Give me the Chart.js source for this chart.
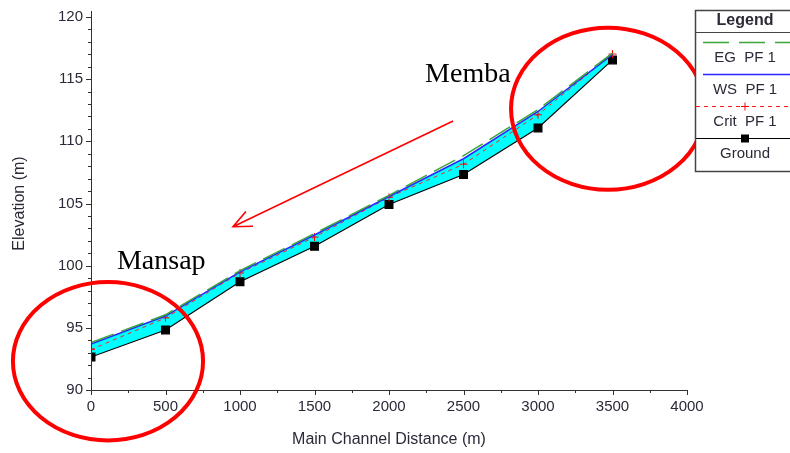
<!DOCTYPE html>
<html><head><meta charset="utf-8">
<script src="https://cdn.jsdelivr.net/npm/chart.js@4.4.1/dist/chart.umd.min.js"></script>
<style>html,body{margin:0;padding:0;background:#fff}canvas{display:block}</style>
</head><body>
<canvas id="c" width="790" height="453"></canvas>
<script>
// ---- data ----
const distances = [0, 500, 1000, 1500, 2000, 2500, 3000, 3500];
const egPF1     = [93.82, 96.05, 99.6, 102.58, 105.66, 108.85, 112.55, 117.1];
const wsPF1     = [93.7, 95.95, 99.5, 102.47, 105.56, 108.6, 112.4, 117.0];
const critPF1   = [93.25, 95.8, 99.41, 102.3, 105.5, 108.16, 112.14, 117.02];
const ground    = [92.65, 94.83, 98.7, 101.56, 104.92, 107.33, 111.08, 116.55];
const seriesLabels = ['EG  PF 1', 'WS  PF 1', 'Crit  PF 1', 'Ground'];
const xTickValues = [0, 500, 1000, 1500, 2000, 2500, 3000, 3500, 4000];
const yTickValues = [90, 95, 100, 105, 110, 115, 120];
const placeNames = ['Memba', 'Mansap'];

// ---- styling / annotation placement (in data units) ----
const FONT = "'Liberation Sans', Arial, sans-serif";
const TXT = '#2a2a38';
const ellipses = [
  {cx: 3470, cy: 112.62, rx: 651, ry: 6.52},
  {cx: 114,  cy: 92.31,  rx: 638, ry: 6.37}
];
const labelPos = [{x: 2242, y: 114.75}, {x: 174, y: 99.71}];
const arrow = {from: {x: 2430, y: 111.64}, to: {x: 953, y: 103.13}};

const pts = vals => distances.map((d, i) => ({x: d, y: vals[i]}));

const tickPlugin = {
  id: 'ticks',
  afterDraw(chart) {
    const {ctx, scales: {x, y}, chartArea: a} = chart;
    ctx.save();
    ctx.strokeStyle = '#333';
    ctx.lineWidth = 1;
    ctx.beginPath();
    ctx.moveTo(a.left + 0.5, a.bottom + 0.5); ctx.lineTo(a.left + 0.5, a.top - 6);
    ctx.moveTo(a.left, a.bottom + 0.5); ctx.lineTo(a.right + 1, a.bottom + 0.5);
    for (let v = 90; v <= 120; v += 1) {
      const py = Math.round(y.getPixelForValue(v)) + 0.5;
      const len = v % 5 === 0 ? 5 : 3;
      ctx.moveTo(a.left - len, py); ctx.lineTo(a.left, py);
    }
    for (let v = 0; v <= 4000; v += 250) {
      const px = Math.round(x.getPixelForValue(v)) + 0.5;
      const len = v % 500 === 0 ? 5 : 3;
      ctx.moveTo(px, a.bottom); ctx.lineTo(px, a.bottom + len);
    }
    ctx.stroke();
    ctx.restore();
  }
};

const annotPlugin = {
  id: 'annot',
  afterDraw(chart) {
    const {ctx, scales: {x, y}} = chart;
    ctx.save();
    ctx.strokeStyle = '#ff0000';
    ctx.lineWidth = 4;
    ellipses.forEach(e => {
      const cx = x.getPixelForValue(e.cx), cy = y.getPixelForValue(e.cy);
      const rx = Math.abs(x.getPixelForValue(e.cx + e.rx) - cx);
      const ry = Math.abs(y.getPixelForValue(e.cy + e.ry) - cy);
      ctx.beginPath();
      ctx.ellipse(cx, cy, rx, ry, 0, 0, Math.PI * 2);
      ctx.stroke();
    });
    const x1 = x.getPixelForValue(arrow.from.x), y1 = y.getPixelForValue(arrow.from.y);
    const x2 = x.getPixelForValue(arrow.to.x), y2 = y.getPixelForValue(arrow.to.y);
    ctx.lineWidth = 1.6;
    ctx.beginPath();
    ctx.moveTo(x1, y1); ctx.lineTo(x2, y2);
    const ang = Math.atan2(y2 - y1, x2 - x1);
    const hl = 20, ha = 0.42;
    ctx.moveTo(x2 - hl * Math.cos(ang - ha), y2 - hl * Math.sin(ang - ha));
    ctx.lineTo(x2, y2);
    ctx.lineTo(x2 - hl * Math.cos(ang + ha), y2 - hl * Math.sin(ang + ha));
    ctx.stroke();
    ctx.fillStyle = '#000';
    ctx.font = "28px 'Liberation Serif', 'Times New Roman', serif";
    ctx.textBaseline = 'alphabetic';
    ctx.textAlign = 'left';
    placeNames.forEach((t, i) => {
      ctx.fillText(t, x.getPixelForValue(labelPos[i].x), y.getPixelForValue(labelPos[i].y));
    });
    ctx.restore();
  }
};

const legendPlugin = {
  id: 'hecLegend',
  afterDraw(chart) {
    const ctx = chart.ctx;
    const ds = chart.data.datasets;
    const L = 695, T = 10, W = 100, H = 161;
    const cx = L + 50;
    ctx.save();
    ctx.fillStyle = '#fff';
    ctx.fillRect(L, T, W, H);
    ctx.strokeStyle = '#444';
    ctx.lineWidth = 1.5;
    ctx.strokeRect(L + 0.5, T + 0.5, W, H);
    ctx.fillStyle = TXT;
    ctx.textAlign = 'center';
    ctx.textBaseline = 'middle';
    ctx.font = 'bold 16px ' + FONT;
    ctx.fillText('Legend', cx, T + 11);
    ctx.beginPath();
    ctx.lineWidth = 1;
    ctx.moveTo(L, T + 22.5); ctx.lineTo(L + W, T + 22.5);
    ctx.stroke();
    const lineYs = [42, 74, 106, 138];
    const textYs = [58, 90, 122, 154];
    ds.forEach((d, i) => {
      const ly = lineYs[i] + 0.5;
      ctx.save();
      ctx.strokeStyle = d.borderColor;
      ctx.lineWidth = Math.min(d.borderWidth, 1.5);
      ctx.setLineDash(d.legendDash || d.borderDash || []);
      ctx.beginPath();
      ctx.moveTo(i < 2 ? L + 8 : L + 1, ly); ctx.lineTo(L + W, ly);
      ctx.stroke();
      ctx.setLineDash([]);
      if (d.pointStyle === 'cross') {
        ctx.strokeStyle = d.pointBorderColor; ctx.lineWidth = 1;
        ctx.beginPath();
        ctx.moveTo(cx - 4, ly); ctx.lineTo(cx + 4, ly);
        ctx.moveTo(cx, ly - 4); ctx.lineTo(cx, ly + 4);
        ctx.stroke();
      } else if (d.pointStyle === 'rect' && d.pointRadius > 0) {
        ctx.fillStyle = d.pointBackgroundColor;
        ctx.fillRect(cx - 4, ly - 4, 8, 8);
      }
      ctx.restore();
      ctx.fillStyle = TXT;
      ctx.font = '15px ' + FONT;
      ctx.fillText(d.label, cx, textYs[i]);
    });
    ctx.restore();
  }
};

new Chart(document.getElementById('c'), {
  type: 'line',
  data: {
    datasets: [
      {label: seriesLabels[0], data: pts(egPF1), borderColor: 'rgb(60,165,60)', borderWidth: 1.5,
       borderDash: [24, 8], legendDash: [26, 10], pointRadius: 0, fill: false},
      {label: seriesLabels[1], data: pts(wsPF1), borderColor: 'rgb(40,40,255)', borderWidth: 1.5,
       pointRadius: 0, fill: {target: 3}, backgroundColor: 'rgb(0,255,255)'},
      {label: seriesLabels[2], data: pts(critPF1), borderColor: 'rgb(255,30,30)', borderWidth: 1,
       borderDash: [4, 4], pointStyle: 'cross', pointRadius: 4, pointBorderColor: 'rgb(255,0,0)',
       pointBorderWidth: 1, fill: false},
      {label: seriesLabels[3], data: pts(ground), borderColor: '#000', borderWidth: 1.2,
       pointStyle: 'rect', pointRadius: 5.5, pointBackgroundColor: '#000', pointBorderColor: '#000',
       fill: false}
    ]
  },
  options: {
    responsive: false,
    animation: false,
    devicePixelRatio: 1,
    layout: {padding: {left: 0, top: 13, right: 103, bottom: 0}},
    plugins: {
      legend: {display: false},
      tooltip: {enabled: false},
      filler: {drawTime: 'beforeDatasetsDraw'}
    },
    elements: {line: {tension: 0}},
    scales: {
      x: {
        type: 'linear', min: 0, max: 4000,
        afterBuildTicks: s => { s.ticks = xTickValues.map(v => ({value: v})); },
        afterFit: s => { s.height = 63; },
        grid: {display: false, drawTicks: false},
        border: {display: false},
        ticks: {padding: 8, color: TXT, font: {family: FONT, size: 15}, maxRotation: 0,
                callback: v => String(v)},
        title: {display: true, text: 'Main Channel Distance (m)', color: TXT,
                font: {family: FONT, size: 16}, padding: {top: 0, bottom: 4}}
      },
      y: {
        type: 'linear', min: 90, max: 120,
        afterBuildTicks: s => { s.ticks = yTickValues.map(v => ({value: v})); },
        afterFit: s => { s.width = 91; },
        grid: {display: false, drawTicks: false},
        border: {display: false},
        ticks: {padding: 8, color: TXT, font: {family: FONT, size: 15}, callback: v => String(v)},
        title: {display: true, text: 'Elevation (m)', color: TXT,
                font: {family: FONT, size: 16}, padding: {top: 10, bottom: 0}}
      }
    }
  },
  plugins: [tickPlugin, annotPlugin, legendPlugin]
});
</script>
</body></html>
